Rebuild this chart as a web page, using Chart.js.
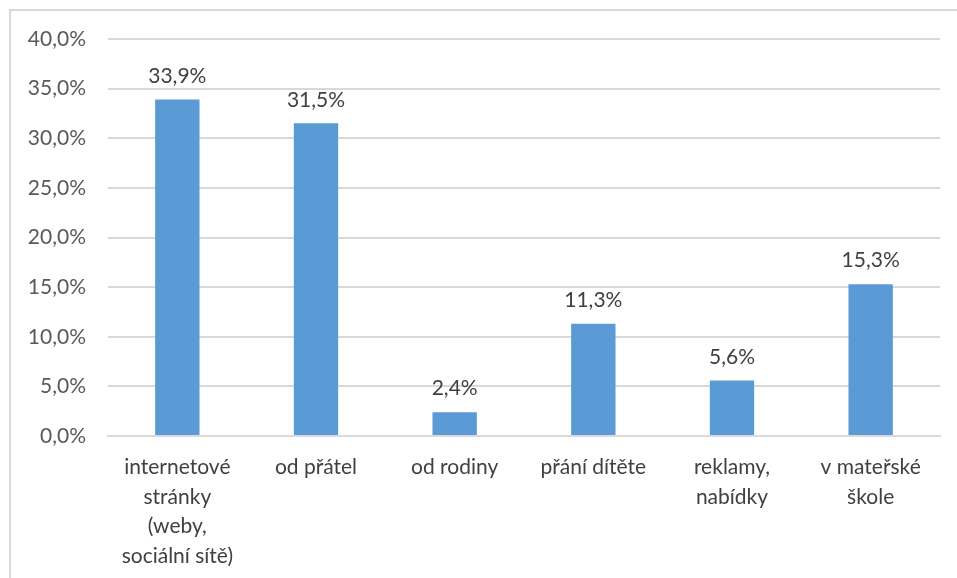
<!DOCTYPE html>
<html><head><meta charset="utf-8">
<script src="https://cdn.jsdelivr.net/npm/chart.js@4"></script>
<style>
html,body{margin:0;padding:0;background:#fff;}
#wrap{position:absolute;left:0;top:0;width:957px;height:578px;overflow:hidden;}
#frame{position:absolute;left:9px;top:9px;width:1000px;height:1000px;border:2px solid #d9d9d9;box-sizing:border-box;}
canvas{position:absolute;left:0;top:0;}
</style></head>
<body>
<div id="wrap"><div id="frame"></div><canvas id="c" width="957" height="578"></canvas></div>
<script>
const categories = [
  ["internetové","stránky","(weby,","sociální sítě)"],
  ["od přátel"],
  ["od rodiny"],
  ["přání dítěte"],
  ["reklamy,","nabídky"],
  ["v mateřské","škole"]
];
const values = [33.9, 31.5, 2.4, 11.3, 5.6, 15.3];
const yTicks = [0, 5, 10, 15, 20, 25, 30, 35, 40];

const fmt = v => v.toFixed(1).replace('.', ',') + '%';
const FONT = 'Lato, "Open Sans", sans-serif';

const labelPlugin = {
  id: 'vlabels',
  afterDatasetsDraw(chart) {
    const ctx = chart.ctx;
    const meta = chart.getDatasetMeta(0);
    ctx.save();
    ctx.font = '21px ' + FONT;
    ctx.fillStyle = '#404040';
    ctx.textAlign = 'center';
    ctx.textBaseline = 'bottom';
    meta.data.forEach((bar, i) => {
      ctx.fillText(fmt(values[i]), bar.x, bar.y - 13);
    });
    ctx.restore();
  }
};

new Chart(document.getElementById('c'), {
  type: 'bar',
  data: {
    labels: categories,
    datasets: [{
      data: values,
      backgroundColor: '#5B9BD5',
      categoryPercentage: 1,
      barPercentage: 0.32
    }]
  },
  options: {
    responsive: false,
    animation: false,
    layout: { padding: { left: 0, right: 17, top: 39, bottom: 7 } },
    plugins: { legend: { display: false }, tooltip: { enabled: false } },
    scales: {
      x: {
        afterFit: ax => { ax.height = 135; },
        grid: { display: false, drawTicks: false },
        border: { display: true, color: '#d9d9d9', width: 2 },
        ticks: { color: '#404040', font: { family: FONT, size: 21, lineHeight: 1.4 }, maxRotation: 0, autoSkip: false, padding: 17 }
      },
      y: {
        min: 0, max: 40,
        afterBuildTicks: ax => { ax.ticks = yTicks.map(v => ({ value: v })); },
        afterFit: ax => { ax.width = 108; },
        grid: { color: '#d9d9d9', lineWidth: 2, drawTicks: false },
        border: { display: false },
        ticks: { color: '#595959', font: { family: FONT, size: 21 }, padding: 22, callback: v => fmt(v) }
      }
    }
  },
  plugins: [labelPlugin]
});
</script>
</body></html>
